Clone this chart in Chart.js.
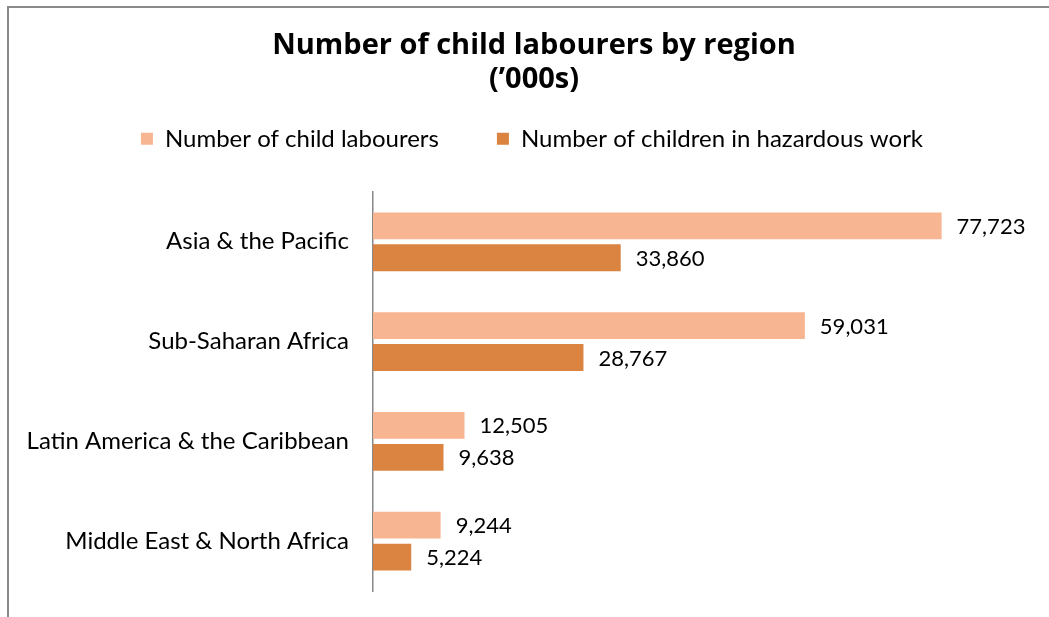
<!DOCTYPE html>
<html>
<head>
    <title>Number of child labourers by region</title>
    <style>
        body { margin: 0; background: #fff; overflow: hidden; }
        #frame {
            position: absolute; left: 7px; top: 6px; right: -10px; bottom: -10px;
            border-left: 2px solid #8a8a8a; border-top: 2px solid #8a8a8a;
        }
        #wrap { position: absolute; left: 0; top: 0; width: 1068px; height: 617px; }
    </style>
    <script src="https://cdn.jsdelivr.net/npm/chart.js"></script>
</head>
<body>
    <div id="frame"></div>
    <div id="wrap"><canvas id="regionChart" width="1068" height="617"></canvas></div>
    <script>
        // Data ('000s)
        var regions = ['Asia & the Pacific', 'Sub-Saharan Africa', 'Latin America & the Caribbean', 'Middle East & North Africa'];
        var childLabourers = [77723, 59031, 12505, 9244];
        var hazardousWork = [33860, 28767, 9638, 5224];
        var seriesNames = ['Number of child labourers', 'Number of children in hazardous work'];

        var fontFamily = "'Gill Sans', 'Gill Sans MT', Lato, 'Noto Sans', sans-serif";
        var titleFamily = "'Gill Sans', 'Gill Sans MT', 'Open Sans', sans-serif";

        // draws the value at the end of each bar
        var valueLabels = {
            id: 'valueLabels',
            afterDatasetsDraw: function (chart) {
                var ctx = chart.ctx;
                ctx.save();
                ctx.font = '22px ' + fontFamily;
                ctx.fillStyle = '#000';
                ctx.textAlign = 'left';
                ctx.textBaseline = 'middle';
                chart.data.datasets.forEach(function (ds, i) {
                    chart.getDatasetMeta(i).data.forEach(function (bar, j) {
                        ctx.fillText(ds.data[j].toLocaleString('en-US'), bar.x + 15, bar.y + 1);
                    });
                });
                ctx.restore();
            }
        };

        // legend: wide item spacing but kept close under the title
        var legendShift = 28;
        var legendTweak = {
            id: 'legendTweak',
            beforeInit: function (chart) {
                var lg = chart.legend;
                var origFit = lg.fit;
                lg.fit = function () {
                    origFit.bind(lg)();
                    this.height = 95;
                };
                var origDraw = lg.draw;
                lg.draw = function () {
                    chart.ctx.save();
                    chart.ctx.translate(-2, -legendShift);
                    origDraw.bind(lg)();
                    chart.ctx.restore();
                };
            }
        };

        var ctx = document.getElementById('regionChart').getContext('2d');
        var myChart = new Chart(ctx, {
            type: 'bar',
            data: {
                labels: regions,
                datasets: [{
                    label: seriesNames[0],
                    data: childLabourers,
                    backgroundColor: '#F8B592',
                    barPercentage: 0.84,
                    categoryPercentage: 0.64
                }, {
                    label: seriesNames[1],
                    data: hazardousWork,
                    backgroundColor: '#DB8340',
                    barPercentage: 0.84,
                    categoryPercentage: 0.64
                }]
            },
            options: {
                indexAxis: 'y',
                responsive: false,
                animation: false,
                devicePixelRatio: 1,
                layout: { padding: { left: 0, right: 0, top: 0, bottom: 26 } },
                plugins: {
                    title: {
                        display: true,
                        text: ['Number of child labourers by region', '(\u2019000s)'],
                        color: '#000',
                        font: { family: titleFamily, size: 29, weight: 'bold', lineHeight: 1.17 },
                        padding: { top: 29, bottom: 0 }
                    },
                    legend: {
                        position: 'top',
                        labels: {
                            color: '#000',
                            boxWidth: 12,
                            boxHeight: 12,
                            padding: 58,
                            font: { family: fontFamily, size: 24 }
                        }
                    },
                    tooltip: { enabled: false }
                },
                scales: {
                    x: {
                        display: false,
                        min: 0,
                        max: 95000
                    },
                    y: {
                        afterFit: function (scale) {
                            scale.width = 373;
                            scale.paddingTop = 0;
                            scale.paddingBottom = 0;
                        },
                        grid: { display: false, drawTicks: false },
                        border: { display: true, color: '#888888', width: 1.5 },
                        ticks: {
                            color: '#000',
                            padding: 24,
                            font: { family: fontFamily, size: 24 }
                        }
                    }
                }
            },
            plugins: [valueLabels, legendTweak]
        });
    </script>
</body>
</html>
